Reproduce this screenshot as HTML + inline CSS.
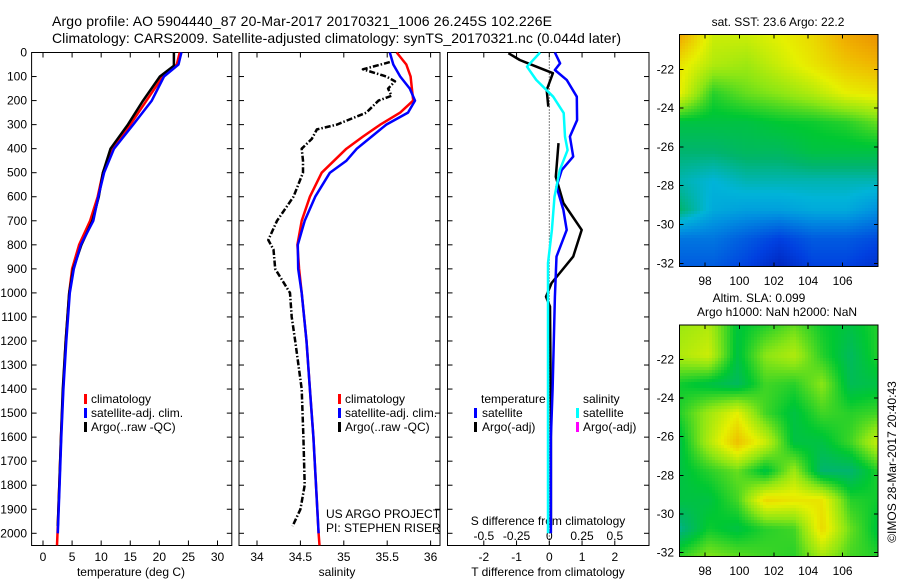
<!DOCTYPE html>
<html><head><meta charset="utf-8"><style>
html,body{margin:0;padding:0;background:#fff}
svg{display:block;font-family:"Liberation Sans",sans-serif}
text{font-size:12px;fill:#000}
</style></head><body>
<svg id="c" width="900" height="580" viewBox="0 0 900 580" xmlns="http://www.w3.org/2000/svg">
<text x="52" y="26" style="font-size:14px" textLength="500">Argo profile: AO 5904440_87 20-Mar-2017 20170321_1006 26.245S 102.226E</text>
<text x="52" y="43" style="font-size:14px" textLength="569">Climatology: CARS2009. Satellite-adjusted climatology: synTS_20170321.nc (0.044d later)</text>
<g id="g"></g>
</svg>
<script>
// ---- data ----
const depthTicks=[0,100,200,300,400,500,600,700,800,900,1000,1100,1200,1300,1400,1500,1600,1700,1800,1900,2000];
const tempTicks=[0,5,10,15,20,25,30];
const salTicks=[34,34.5,35,35.5,36];
const salTickLabels=["34","34.5","35","35.5","36"];
const tdiffTicks=[-2,-1,0,1,2];
const sdiffTicks=[-0.5,-0.25,0,0.25,0.5];
const sdiffTickLabels=["-0.5","-0.25","0","0.25","0.5"];

const tClimDepth=[0,50,100,200,300,400,500,600,700,800,900,1000,1200,1400,1600,1800,2000,2050];
const tClim=[23.5,23.0,20.6,17.8,15.0,11.8,10.3,9.4,8.1,6.2,5.0,4.5,3.9,3.45,3.1,2.8,2.5,2.4];
const tSatDepth=[0,50,100,200,300,400,500,600,700,800,900,1000,1200,1400,1600,1800,2000];
const tSat=[23.8,23.3,20.8,18.7,15.5,12.2,10.5,9.5,8.65,6.5,5.3,4.6,4.0,3.5,3.15,2.85,2.55];
const tArgoDepth=[0,55,100,200,300,400,500,600,700,800,900,1000,1200,1400,1600,1800,1970];
const tArgo=[22.5,22.5,20.1,17.2,14.6,11.6,10.3,9.6,8.5,6.6,5.2,4.5,3.9,3.4,3.1,2.8,2.55];

const sClimDepth=[0,50,100,200,250,300,350,400,500,600,700,800,900,1000,1200,1400,1600,1800,2000,2050];
const sClim=[35.61,35.72,35.77,35.80,35.65,35.42,35.22,35.03,34.745,34.61,34.515,34.465,34.485,34.515,34.57,34.61,34.65,34.68,34.71,34.72];
const sSatDepth=[0,50,100,150,200,250,300,350,400,450,500,600,700,800,900,1000,1200,1400,1600,1800,2000];
const sSat=[35.53,35.57,35.65,35.76,35.82,35.74,35.49,35.32,35.15,35.03,34.84,34.67,34.55,34.47,34.475,34.515,34.57,34.61,34.65,34.68,34.71];
const sArgoDepth=[40,70,100,120,150,180,200,250,300,320,360,400,450,500,600,700,780,820,900,1000,1100,1200,1400,1600,1800,1900,1970];
const sArgo=[35.53,35.22,35.49,35.59,35.51,35.55,35.40,35.26,34.92,34.69,34.63,34.515,34.53,34.53,34.42,34.23,34.13,34.19,34.21,34.38,34.40,34.44,34.515,34.535,34.55,34.50,34.41];

const dtSatDepth=[0,45,73,114,184,281,350,433,489,558,655,738,849,1016,1400,1600,2000];
const dtSat=[0.17,0.33,0.17,0.53,0.84,0.85,0.63,0.73,0.38,0.22,0.43,0.53,0.22,0.17,0.1,0.05,0.05];
const dtArgoDepth=[3,31,45,86,156,225,300,377,517,626,738,849,959,1016,1057,1500,1970];
const dtArgo=[-1.25,-0.9,-0.65,0.11,-0.08,-0.03,null,0.28,0.2,0.43,0.99,0.73,0.07,-0.1,0.02,0.05,0.05];
const dsSatDepth=[0,59,114,184,252,350,406,489,600,738,876,1200,2000];
const dsSat=[-0.07,-0.17,-0.1,0.03,0.11,0.12,0.14,0.08,0.04,0.02,-0.01,-0.01,-0.01];

const lonTicks=[98,100,102,104,106];
const latTicks=[-22,-24,-26,-28,-30,-32];
const sstGrid=[
[0.9,0.75,0.75,0.78,0.82,0.9,0.95],
[0.8,0.72,0.7,0.75,0.8,0.85,0.88],
[0.78,0.6,0.65,0.68,0.72,0.78,0.8],
[0.55,0.55,0.55,0.57,0.58,0.6,0.65],
[0.5,0.5,0.52,0.52,0.55,0.55,0.55],
[0.45,0.42,0.45,0.45,0.45,0.45,0.45],
[0.5,0.4,0.38,0.38,0.4,0.4,0.35],
[0.3,0.3,0.25,0.2,0.25,0.25,0.22],
[0.25,0.25,0.2,0.12,0.2,0.2,0.15]];
const slaGrid=[
[0.7,0.72,0.56,0.6,0.65,0.58,0.55,0.6],
[0.72,0.75,0.55,0.68,0.72,0.6,0.52,0.6],
[0.58,0.55,0.52,0.62,0.6,0.68,0.53,0.55],
[0.6,0.7,0.78,0.62,0.55,0.62,0.6,0.62],
[0.55,0.72,0.86,0.75,0.55,0.55,0.62,0.75],
[0.55,0.6,0.65,0.55,0.7,0.5,0.5,0.6],
[0.55,0.55,0.62,0.82,0.8,0.8,0.6,0.58],
[0.48,0.58,0.55,0.6,0.62,0.82,0.65,0.55],
[0.62,0.68,0.65,0.62,0.6,0.7,0.62,0.6]];

// ---- helpers ----
const NS="http://www.w3.org/2000/svg";
const G=document.getElementById('g');
function mk(tag,attrs,parent){const e=document.createElementNS(NS,tag);for(const k in attrs)e.setAttribute(k,attrs[k]);(parent||G).appendChild(e);return e;}
const Y0=52.5,DSC=0.2404,YB=545.5;
const yD=d=>Y0+d*DSC;
const xT=t=>43+t*5.817;
const xS=s=>257+(s-34)*86.8;
const xDT=v=>549.3+v*32.75;
const xDS=v=>549.3+v*131;

function panel(x0,x1,name){
  const r=mk('rect',{x:x0,y:Y0,width:x1-x0,height:YB-Y0,fill:'none',stroke:'#000','stroke-width':1});
  
  
  depthTicks.forEach(d=>{
    mk('line',{x1:x0,x2:x0+5,y1:yD(d),y2:yD(d),stroke:'#000'});
    mk('line',{x1:x1-5,x2:x1,y1:yD(d),y2:yD(d),stroke:'#000'});
  });
}
function xticks(vals,fx,labels,name,y){
  vals.forEach((v,i)=>{
    const x=fx(v);
    mk('line',{x1:x,x2:x,y1:Y0,y2:Y0+5,stroke:'#000'});
    mk('line',{x1:x,x2:x,y1:YB-5,y2:YB,stroke:'#000'});
    const t=mk('text',{x:x,y:y,'text-anchor':'middle'});
    t.textContent=labels?labels[i]:String(v);
    
    
  });
}
function line(depths,vals,fx,color,w,name,dash){
  let d='',pen=false;
  depths.forEach((dp,i)=>{
    const v=vals[i];
    if(v===null){pen=false;return;}
    d+=(pen?'L':'M')+fx(v).toFixed(1)+' '+yD(dp).toFixed(1);pen=true;
  });
  const a={d:d,fill:'none',stroke:color,'stroke-width':w,'stroke-linejoin':'round'};
  if(dash)a['stroke-dasharray']=dash;
  const p=mk('path',a);
  
  
}
function label(x,y,txt,name,anchor,size){
  const t=mk('text',{x:x,y:y,'text-anchor':anchor||'start'});
  if(size)t.setAttribute('style','font-size:'+size+'px');
  t.textContent=txt;
  
  
  return t;
}
function legendMark(x,y,color,name){
  const r=mk('rect',{x:x,y:y-9,width:3,height:10,fill:color});
  
  
}

// ---- panel 1: temperature ----
panel(31.6,231.8,'temperature-panel');
depthTicks.forEach(d=>label(27,yD(d)+4,String(d),'depth-tick-label','end'));
xticks(tempTicks,xT,null,'temperature-tick-label',561);
label(131,576,'temperature (deg C)','temperature-axis-title','middle');
line(tClimDepth,tClim,xT,'#f00',2.5,'temperature-climatology-line');
line(tArgoDepth,tArgo,xT,'#000',2.5,'temperature-argo-line');
line(tSatDepth,tSat,xT,'#00f',2.5,'temperature-satellite-line');
legendMark(84,403,'#f00','legend-climatology-marker');label(91,403,'climatology','legend-climatology');
legendMark(84,417,'#00f','legend-satellite-marker');label(91,417,'satellite-adj. clim.','legend-satellite');
legendMark(84,431,'#000','legend-argo-marker');label(91,431,'Argo(..raw -QC)','legend-argo');

// ---- panel 2: salinity ----
panel(239,440,'salinity-panel');
xticks(salTicks,xS,salTickLabels,'salinity-tick-label',561);
label(337,576,'salinity','salinity-axis-title','middle');
line(sArgoDepth,sArgo,xS,'#000',2.5,'salinity-argo-line','6,2,1.5,2');
line(sClimDepth,sClim,xS,'#f00',2.5,'salinity-climatology-line');
line(sSatDepth,sSat,xS,'#00f',2.5,'salinity-satellite-line');
legendMark(338,403,'#f00','legend2-climatology-marker');label(345,403,'climatology','legend2-climatology');
legendMark(338,417,'#00f','legend2-satellite-marker');label(345,417,'satellite-adj. clim.','legend2-satellite');
legendMark(338,431,'#000','legend2-argo-marker');label(345,431,'Argo(..raw -QC)','legend2-argo');
label(326,518,'US ARGO PROJECT','project-label');
label(326,532,'PI: STEPHEN RISER','pi-label');

// ---- panel 3: differences ----
panel(447.5,649,'difference-panel');
xticks(tdiffTicks,xDT,null,'tdiff-tick-label',561);
label(548,576,'T difference from climatology','tdiff-axis-title','middle');
label(548,525,'S difference from climatology','sdiff-axis-title','middle');
sdiffTicks.forEach((v,i)=>label(xDS(v),540,sdiffTickLabels[i],'sdiff-tick-label','middle'));
mk('line',{x1:549.3,x2:549.3,y1:yD(0),y2:yD(2050),stroke:'#000','stroke-width':1,'stroke-dasharray':'1,2'});
line(dtArgoDepth,dtArgo,xDT,'#000',2.5,'tdiff-argo-line');
line(dtSatDepth,dtSat,xDT,'#00f',2.5,'tdiff-satellite-line');
line(dsSatDepth,dsSat,xDS,'#0ff',2.5,'sdiff-satellite-line');
label(481,403,'temperature','legend3-temperature-header');
label(583,403,'salinity','legend3-salinity-header');
legendMark(474,417,'#00f','legend3-tsat-marker');label(482,417,'satellite','legend3-tsat');
legendMark(474,431,'#000','legend3-targo-marker');label(482,431,'Argo(-adj)','legend3-targo');
legendMark(576,417,'#0ff','legend3-ssat-marker');label(583,417,'satellite','legend3-ssat');
legendMark(576,431,'#f0f','legend3-sargo-marker');label(583,431,'Argo(-adj)','legend3-sargo');

// ---- maps ----
const stops=[[0,[0,0,140]],[0.2,[0,64,224]],[0.35,[0,144,224]],[0.42,[0,180,216]],[0.5,[0,180,110]],[0.57,[0,200,50]],[0.68,[140,230,20]],[0.78,[230,240,0]],[0.88,[240,180,0]],[1,[232,120,0]]];
function cmap(v){
  v=Math.max(0,Math.min(1,v));
  for(let i=1;i<stops.length;i++){if(v<=stops[i][0]){const a=stops[i-1],b=stops[i],f=(v-a[0])/(b[0]-a[0]);
    return 'rgb('+a[1].map((c,k)=>Math.round(c+(b[1][k]-c)*f)).join(',')+')';}}
  return 'rgb(232,120,0)';
}
function drawMap(grid,x0,y0,w,h,lat22,lat32,name,lonY){
  const g=mk('g',{'shape-rendering':'crispEdges'});
  
  
  const rows=grid.length,cols=grid[0].length,cs=3;
  for(let py=0;py<h;py+=cs){for(let px=0;px<w;px+=cs){
    const fy=(py/h)*(rows-1),fx=(px/w)*(cols-1);
    const r0=Math.floor(fy),c0=Math.floor(fx),r1=Math.min(rows-1,r0+1),c1=Math.min(cols-1,c0+1);
    const ay=fy-r0,ax=fx-c0;
    const v=(grid[r0][c0]*(1-ax)+grid[r0][c1]*ax)*(1-ay)+(grid[r1][c0]*(1-ax)+grid[r1][c1]*ax)*ay;
    mk('rect',{x:Math.round(x0+px),y:Math.round(y0+py),width:Math.min(cs+1,Math.ceil(w-px)),height:Math.min(cs+1,Math.ceil(h-py)),fill:cmap(v)},g);
  }}
  mk('rect',{x:x0,y:y0,width:w,height:h,fill:'none',stroke:'#000'},g);
  const xl=lon=>705+(lon-98)*17.2;
  const yl=lat=>lat22+(-22-lat)*(lat32-lat22)/10;
  lonTicks.forEach(l=>{mk('line',{x1:xl(l),x2:xl(l),y1:y0,y2:y0+4,stroke:'#000'},g);mk('line',{x1:xl(l),x2:xl(l),y1:y0+h-4,y2:y0+h,stroke:'#000'},g);
    label(xl(l),lonY,String(l),'lon-tick-label','middle');});
  latTicks.forEach(l=>{mk('line',{x1:x0,x2:x0+4,y1:yl(l),y2:yl(l),stroke:'#000'},g);mk('line',{x1:x0+w-4,x2:x0+w,y1:yl(l),y2:yl(l),stroke:'#000'},g);
    label(674,yl(l)+4,String(l),'lat-tick-label','end');});
}
drawMap(sstGrid,679.3,34.3,198.7,232.4,69.3,263.3,'sst-map',285);
label(778,26,'sat. SST: 23.6 Argo: 22.2','sst-map-title','middle');
drawMap(slaGrid,679.3,325,198.7,231.5,359.3,552.7,'sla-map',575);
label(759,302,'Altim. SLA: 0.099','sla-map-title','middle');
label(777,316,'Argo h1000: NaN h2000: NaN','sla-map-subtitle','middle');
const cr=label(0,0,'©IMOS 28-Mar-2017 20:40:43','copyright-label','middle');
cr.setAttribute('transform','translate(896,462) rotate(-90)');
</script>
</body></html>
